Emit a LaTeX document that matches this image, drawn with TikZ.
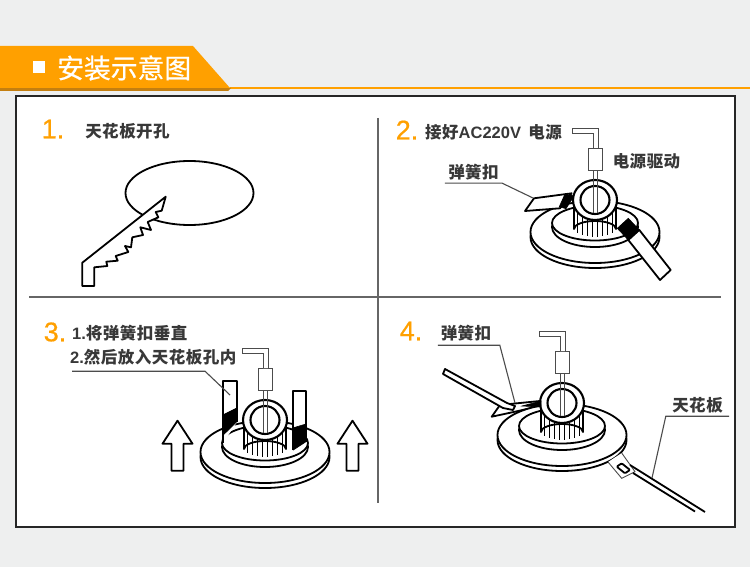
\documentclass[tikz,border=0pt]{standalone}
\usepackage{fontspec}
\usepackage{xcolor}
\setmainfont{Liberation Sans}
\newfontfamily\cjkfont[LetterSpace=3]{Noto Sans CJK SC}
\newfontfamily\titlefont[FakeBold=0.6]{Noto Sans CJK SC}
\newfontfamily\numfont[FakeBold=0.6]{Liberation Sans}
\usetikzlibrary{positioning, calc}
\definecolor{pagegray}{HTML}{EEEFEF}
\definecolor{tagorange}{HTML}{FFA000}
\definecolor{tagshadow}{HTML}{C47F10}

\begin{document}
\begin{tikzpicture}[
    x=1pt, y=-1pt,
    outline/.style={line width=1.8pt, black, line join=round},
    thinline/.style={line width=0.9pt, black!70},
    leader/.style={line width=1.1pt, black!70},
    blackpad/.style={fill=black, draw=black, line width=0.6pt},
    stepnum/.style={font=\numfont\fontsize{27}{27}\selectfont, text=tagorange, inner sep=0pt},
    note/.style={font=\cjkfont\bfseries\fontsize{16.5}{16.5}\selectfont, text=black!78, inner sep=0pt},
    divider/.style={line width=1.4pt, black!60},
    lamp/.pic={
      % flange with its lower rim
      \draw[outline, fill=white] (0,37) ellipse [x radius=64.5, y radius=31];
      \draw[outline, fill=white] (0,32) ellipse [x radius=64.5, y radius=31];
      % cup
      \draw[outline, fill=white] (0,27) ellipse [x radius=43, y radius=20];
      \draw[outline, fill=white] (0,23) ellipse [x radius=43, y radius=17.5];
      % finned body
      \fill[white] (-21,5) rectangle (21,30);
      \fill[white] (0,29) ellipse [x radius=21, y radius=8];
      \draw[outline] (-21,5) -- (-21,29) arc [start angle=180, end angle=0, x radius=21, y radius=-8] -- (21,5);
      \foreach \fx in {-17.5,-12.5,...,17.5}
        \draw[line width=1.3pt] (\fx,10) -- (\fx,{29+8*sqrt(1-(\fx/21)^2)});
      % ring and hole
      \draw[outline, line width=2.1pt, fill=white] (0,0) ellipse [x radius=22, y radius=20];
      \draw[outline, line width=2.1pt, fill=white] (0,0) ellipse [x radius=14.5, y radius=14];
      % wire and driver
      \draw[thinline] (-2,13) -- (-2,-30) (2.5,13) -- (2.5,-30);
      \draw[thinline, fill=white] (-7,-52) rectangle (7,-30);
      \draw[thinline, fill=white] (-2,-52) -- (-2,-67) -- (-23,-67) -- (-23,-72) -- (3,-72) -- (3,-52);
    }
  ]
  \useasboundingbox (0,0) rectangle (750,567);
  \fill[pagegray] (0,0) rectangle (750,567);

  % Header tag
  \fill[tagorange] (230,87) rectangle (750,89);
  \fill[tagshadow] (0,88) -- (231,88) -- (228,91) -- (0,91) -- cycle;
  \fill[tagorange] (0,46) -- (193,46) -- (230,88) -- (0,88) -- cycle;
  \fill[white] (33,61) rectangle (45,73);
  \node[font=\titlefont\fontsize{26.8}{27}\selectfont, text=white, inner sep=0pt, anchor=west] (title) at (57,68) {安装示意图};

  % Panel and dividers
  \draw[line width=1.5pt, black!85, fill=white] (16,96) rectangle (735,527);
  \draw[divider] (378,118) -- (378,503);
  \draw[divider] (29,297) -- (721,297);

  % Step 1: hole and saw
  \node[stepnum] (num1) at (53,129) {1.};
  \node[note] (cut) at (127.5,131) {天花板开孔};
  \draw[outline] (189.5,193) ellipse [x radius=64, y radius=32];
  \draw[outline, fill=white] (82.3,262.7) -- (165.7,196.7) -- (161.7,210.7) -- (155.7,212) -- (158.3,217.3)
    -- (147.7,222) -- (151,230) -- (140.3,227.3) -- (143,235) -- (132.3,237.3) -- (131,247.3) -- (125,246)
    -- (128.3,252) -- (115.7,256) -- (117.7,260.7) -- (106.3,261.7) -- (107.3,266) -- (94.3,267.3)
    -- (94.3,286) -- (82.3,286) -- cycle;

  % Step 2: wiring
  \node[stepnum] (num2) at (407,130) {2.};
  \node[note, anchor=west] (wiring) at (425,132) {接好{\rmfamily AC220V}\hspace{3pt} 电源};
  \node[note] (driver) at (646.5,161) {电源驱动};
  \pic at (595,200) {lamp};
  \draw[outline, fill=white] (525,211) -- (534,198.3) -- (571.7,193.3) -- (560,208.3) -- cycle;
  \fill[blackpad] (565,194) -- (574,196) -- (566,208.7) -- (559.3,206.7) -- cycle;
  \draw[outline, fill=white] (628.3,240) -- (660,280) -- (670.7,270) -- (639.3,230) -- cycle;
  \fill[blackpad] (617.3,228.3) -- (628.3,218.3) -- (639.3,230) -- (628.3,240) -- cycle;
  \coordinate (spring2) at (533,198);
  \node[note, minimum width=57pt, minimum height=22pt] (label2) at (473.5,172) {弹簧扣};
  \draw[leader] (label2.south west) -- (label2.south east) -- (spring2);

  % Step 3: clips upright
  \node[stepnum] (num3) at (55,332) {3.};
  \node[note, anchor=west] (upright) at (72,333) {{\rmfamily 1.}将弹簧扣垂直};
  \node[note, anchor=west, minimum height=28pt] (insert) at (70,357) {{\rmfamily 2.}然后放入天花板孔内};
  \pic at (265,420) {lamp};
  \draw[outline, fill=white] (223,443) -- (223,381) -- (237,381) -- (237,422);
  \fill[blackpad] (222.7,415) -- (236.7,408) -- (236.7,421.7) -- (223.3,435) -- cycle;
  \draw[outline, fill=white] (293,450) -- (293,391) -- (306,391) -- (306,441.7);
  \fill[blackpad] (292.7,428) -- (306,424) -- (306,441.7) -- (293.3,450) -- cycle;
  \coordinate (spring3) at (230,395);
  \draw[leader] (insert.south west) ++(2,0) -- ++(133,0) -- (spring3);
  \foreach \ax in {177.5,352.5}
    \draw[outline] (\ax,420.7) -- ++(15,23) -- ++(-9,0) -- ++(0,27) -- ++(-12,0) -- ++(0,-27) -- ++(-9,0) -- cycle;

  % Step 4: mounted in the ceiling
  \node[stepnum] (num4) at (411,331) {4.};
  \draw[outline, fill=white] (491.7,416.7) -- (500,405) -- (540,401) -- (540,406) -- (515,411.7) -- cycle;
  \pic at (562,403) {lamp};
  \fill[blackpad] (522,406) -- (541,401) -- (541,407) -- cycle;
  \draw[outline, fill=white] (445,369) -- (443,374) -- (503,408) -- (513,410) -- (515,406) -- (507,403) -- cycle;
  \draw[thinline, fill=white] (608,462) -- (621.7,478.3) -- (635,471.7) -- (621.7,453);
  \draw[outline, fill=white, rounded corners=1pt] (616.7,466.7) -- (621.7,463.3) -- (630,470) -- (625,473.3) -- cycle;
  \draw[outline] (630,465) -- (705,512) (633,473) -- (695,511.5);
  \node[note, minimum width=56pt, minimum height=24pt] (label4) at (466,333) {弹簧扣};
  \coordinate (spring4) at (515,403);
  \draw[leader] (label4.south west) -- ++(62,0) -- (spring4);
  \node[note, minimum width=63pt, minimum height=22pt] (ceiling) at (697.5,405) {天花板};
  \coordinate (ceilpt) at (652,478);
  \draw[leader] (ceiling.south east) -- (ceiling.south west) -- (ceilpt);
\end{tikzpicture}
\end{document}
